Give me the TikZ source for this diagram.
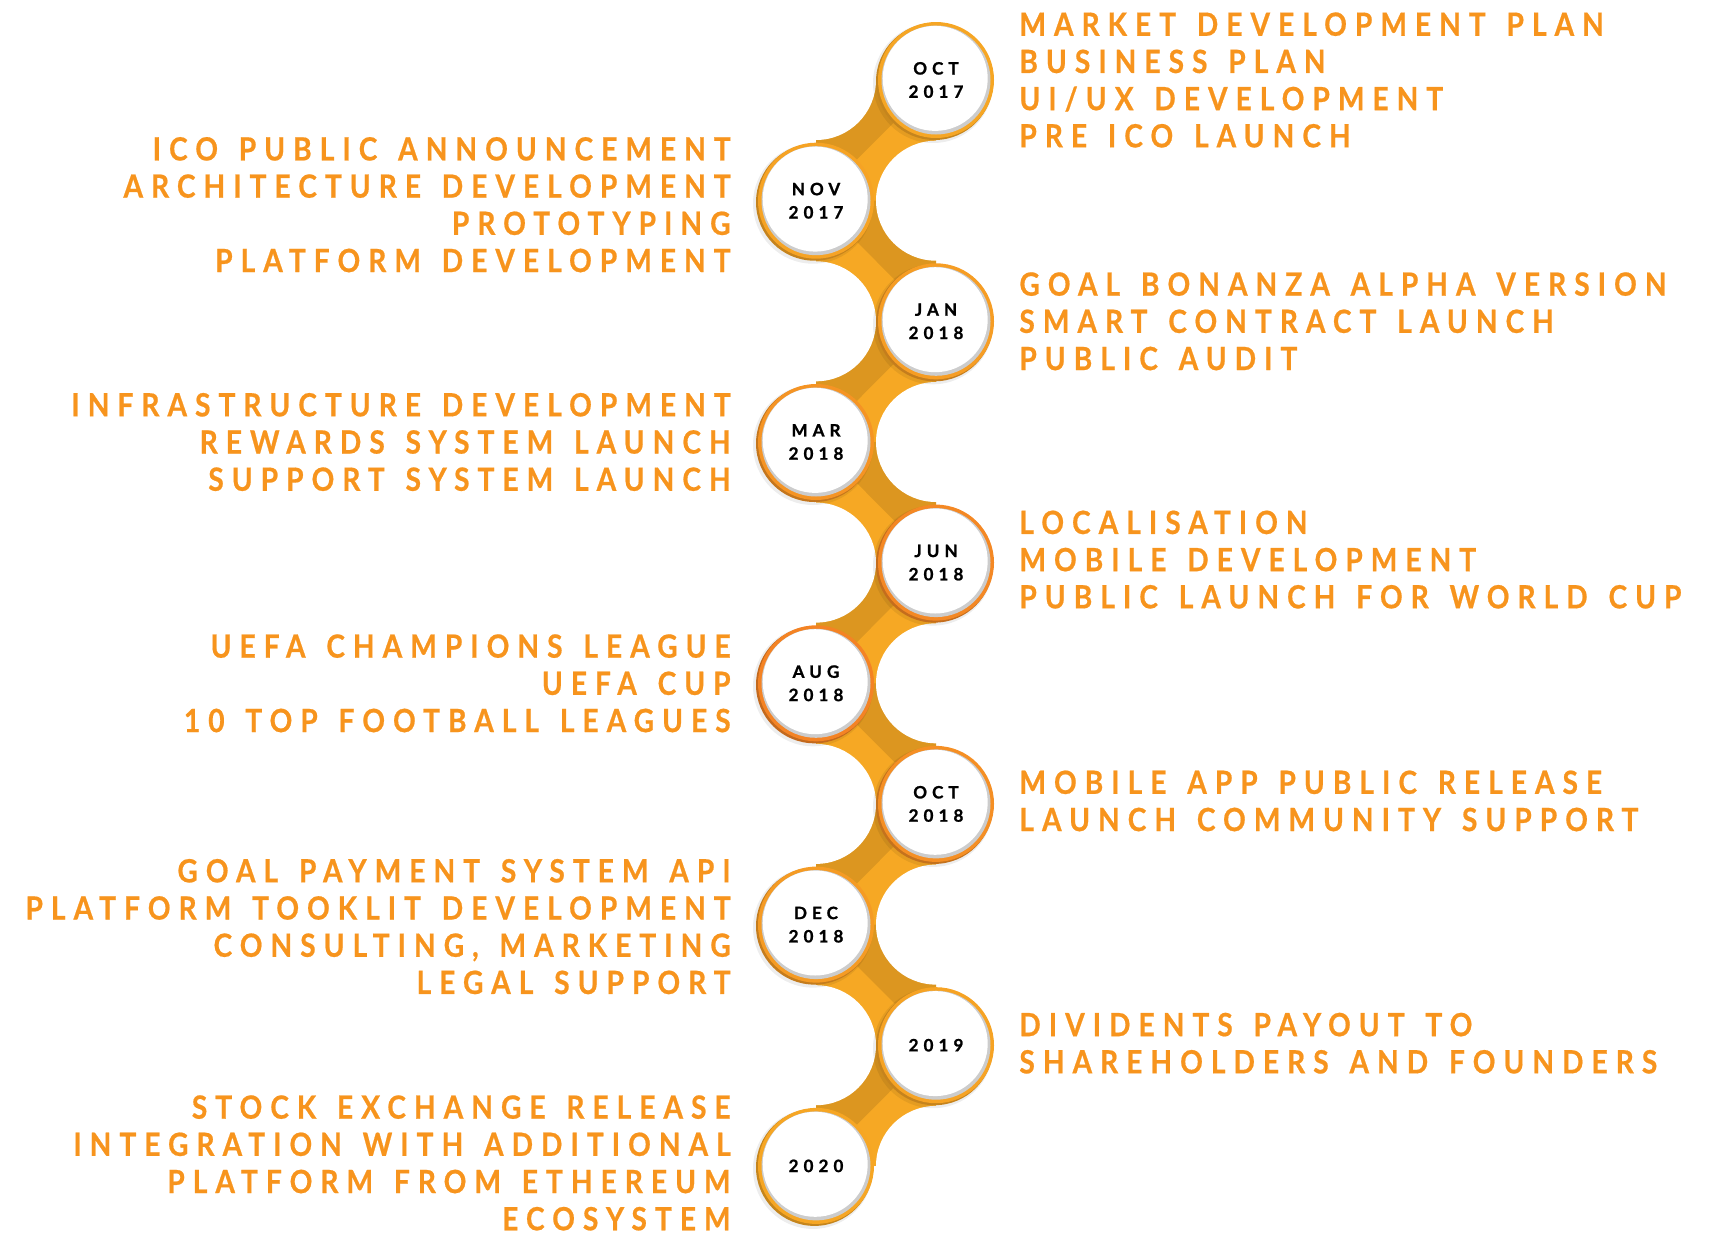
\documentclass[tikz,border=0pt]{standalone}
\usepackage{fontspec}
\usepackage{xcolor}
\usetikzlibrary{positioning}

\newfontfamily\tlfont[LetterSpace=25, WordSpace=1.4, FakeStretch=0.88, FakeBold=0.6]{Lato}
\newfontfamily\datefont[LetterSpace=30, FakeBold=1.2]{Lato}

\definecolor{tltext}{RGB}{247,148,29}
\definecolor{tlyel}{RGB}{246,168,36}
\definecolor{tlorg}{RGB}{244,128,36}

% rim, bevel and white disc of one milestone
\newcommand{\tlring}[2]{%
  \fill[black, opacity=0.07] ([shift={(-3,3)}]#1) circle [radius=60];
  \fill[#2!80!black] ([shift={(-1.5,1.5)}]#1) circle [radius=58.5];
  \fill[#2] (#1) circle [radius=58];
  \fill[black!20] (#1) circle [radius=54.5];
  \fill[white] ([shift={(-0.8,-1.6)}]#1) circle [radius=52.5];
}

\begin{document}
\begin{tikzpicture}[x=1pt, y=-1pt,
  datebox/.style={circle, minimum size=104pt, inner sep=0pt, align=center, text=black,
    font=\datefont\bfseries\fontsize{17}{23.3}\selectfont},
  steptext/.style={text=tltext, inner sep=0pt,
    font=\tlfont\bfseries\fontsize{32}{37.2}\selectfont},
  righttext/.style={steptext, align=left, right=31pt of #1},
  lefttext/.style={steptext, align=right, left=33pt of #1}]

\useasboundingbox (0,0) rectangle (1714,1235);

% centres of the milestones
\coordinate (c-oct17) at (936,80);
\coordinate (c-nov17) at (816,200.7);
\coordinate (c-jan18) at (936,321.3);
\coordinate (c-mar18) at (816,442);
\coordinate (c-jun18) at (936,562.6);
\coordinate (c-aug18) at (816,683.3);
\coordinate (c-oct18) at (936,803.9);
\coordinate (c-dec18) at (816,924.6);
\coordinate (c-y19) at (936,1045.2);
\coordinate (c-y20) at (816,1165.9);

% hollow corners between the necks
\coordinate (g-oct17) at (816,80);
\coordinate (g-nov17) at (936,200.7);
\coordinate (g-jan18) at (816,321.3);
\coordinate (g-mar18) at (936,442);
\coordinate (g-jun18) at (816,562.6);
\coordinate (g-aug18) at (936,683.3);
\coordinate (g-oct18) at (816,803.9);
\coordinate (g-dec18) at (936,924.6);
\coordinate (g-y19) at (816,1045.2);
\coordinate (g-y20) at (936,1165.9);

% the necks
\shade[top color=tlyel, middle color=tlorg, bottom color=tlyel]
  (c-oct17) -- (g-oct17) -- (c-nov17) -- (g-nov17) -- cycle
  (c-nov17) -- (g-nov17) -- (c-jan18) -- (g-jan18) -- cycle
  (c-jan18) -- (g-jan18) -- (c-mar18) -- (g-mar18) -- cycle
  (c-mar18) -- (g-mar18) -- (c-jun18) -- (g-jun18) -- cycle
  (c-jun18) -- (g-jun18) -- (c-aug18) -- (g-aug18) -- cycle
  (c-aug18) -- (g-aug18) -- (c-oct18) -- (g-oct18) -- cycle
  (c-oct18) -- (g-oct18) -- (c-dec18) -- (g-dec18) -- cycle
  (c-dec18) -- (g-dec18) -- (c-y19) -- (g-y19) -- cycle
  (c-y19) -- (g-y19) -- (c-y20) -- (g-y20) -- cycle;

% darker upper half of every neck
\fill[black, opacity=0.1]
  (c-oct17) -- (g-oct17) -- (c-nov17) -- cycle
  (c-nov17) -- (g-nov17) -- (c-jan18) -- cycle
  (c-jan18) -- (g-jan18) -- (c-mar18) -- cycle
  (c-mar18) -- (g-mar18) -- (c-jun18) -- cycle
  (c-jun18) -- (g-jun18) -- (c-aug18) -- cycle
  (c-aug18) -- (g-aug18) -- (c-oct18) -- cycle
  (c-oct18) -- (g-oct18) -- (c-dec18) -- cycle
  (c-dec18) -- (g-dec18) -- (c-y19) -- cycle
  (c-y19) -- (g-y19) -- (c-y20) -- cycle;

% cut the hollows
\fill[white] (g-oct17) circle [radius=60];
\fill[white] (g-nov17) circle [radius=60];
\fill[white] (g-jan18) circle [radius=60];
\fill[white] (g-mar18) circle [radius=60];
\fill[white] (g-jun18) circle [radius=60];
\fill[white] (g-aug18) circle [radius=60];
\fill[white] (g-oct18) circle [radius=60];
\fill[white] (g-dec18) circle [radius=60];
\fill[white] (g-y19) circle [radius=60];
\fill[white] (g-y20) circle [radius=60];

% milestones
\tlring{c-oct17}{tlorg!5!tlyel}
\tlring{c-nov17}{tlorg!12!tlyel}
\tlring{c-jan18}{tlorg!28!tlyel}
\tlring{c-mar18}{tlorg!50!tlyel}
\tlring{c-jun18}{tlorg!80!tlyel}
\tlring{c-aug18}{tlorg!92!tlyel}
\tlring{c-oct18}{tlorg!62!tlyel}
\tlring{c-dec18}{tlorg!32!tlyel}
\tlring{c-y19}{tlorg!12!tlyel}
\tlring{c-y20}{tlorg!5!tlyel}

\node[datebox] (oct17) at (c-oct17) {OCT\\2017};
\node[datebox] (nov17) at (c-nov17) {NOV\\2017};
\node[datebox] (jan18) at (c-jan18) {JAN\\2018};
\node[datebox] (mar18) at (c-mar18) {MAR\\2018};
\node[datebox] (jun18) at (c-jun18) {JUN\\2018};
\node[datebox] (aug18) at (c-aug18) {AUG\\2018};
\node[datebox] (oct18) at (c-oct18) {OCT\\2018};
\node[datebox] (dec18) at (c-dec18) {DEC\\2018};
\node[datebox] (y19) at (c-y19) {2019};
\node[datebox] (y20) at (c-y20) {2020};

% texts
\node[righttext=oct17] (t-oct17) {MARKET DEVELOPMENT PLAN\\BUSINESS PLAN\\UI/UX DEVELOPMENT\\PRE ICO LAUNCH};
\node[lefttext=nov17, yshift=-4pt] (t-nov17) {ICO PUBLIC ANNOUNCEMENT\\ARCHITECTURE DEVELOPMENT\\PROTOTYPING\\PLATFORM DEVELOPMENT};
\node[righttext=jan18] (t-jan18) {GOAL BONANZA ALPHA VERSION\\SMART CONTRACT LAUNCH\\PUBLIC AUDIT};
\node[lefttext=mar18] (t-mar18) {INFRASTRUCTURE DEVELOPMENT\\REWARDS SYSTEM LAUNCH\\SUPPORT SYSTEM LAUNCH};
\node[righttext=jun18, yshift=3pt] (t-jun18) {LOCALISATION\\MOBILE DEVELOPMENT\\PUBLIC LAUNCH FOR WORLD CUP};
\node[lefttext=aug18] (t-aug18) {UEFA CHAMPIONS LEAGUE\\UEFA CUP\\10 TOP FOOTBALL LEAGUES};
\node[righttext=oct18, yshift=3pt] (t-oct18) {MOBILE APP PUBLIC RELEASE\\LAUNCH COMMUNITY SUPPORT};
\node[lefttext=dec18, yshift=-2pt] (t-dec18) {GOAL PAYMENT SYSTEM API\\PLATFORM TOOKLIT DEVELOPMENT\\CONSULTING, MARKETING\\LEGAL SUPPORT};
\node[righttext=y19, yshift=2pt] (t-y19) {DIVIDENTS PAYOUT TO\\SHAREHOLDERS AND FOUNDERS};
\node[lefttext=y20, yshift=3pt] (t-y20) {STOCK EXCHANGE RELEASE\\INTEGRATION WITH ADDITIONAL\\PLATFORM FROM ETHEREUM\\ECOSYSTEM};

\end{tikzpicture}
\end{document}
